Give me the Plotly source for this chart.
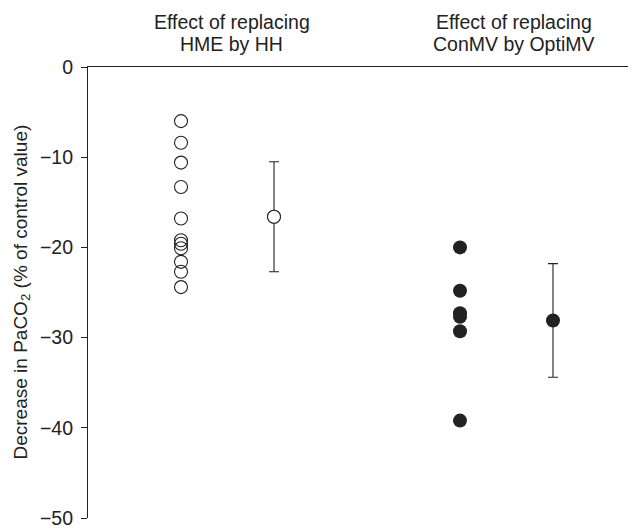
import plotly.graph_objects as go

# Data
group_title_lines = [["Effect of replacing", "HME by HH"], ["Effect of replacing", "ConMV by OptiMV"]]
hh_values = [-6.0, -8.4, -10.6, -13.3, -16.8, -19.2, -19.6, -20.1, -21.6, -22.7, -24.4]
hh_mean = -16.6
hh_sd = 6.1
opti_values = [-20.0, -24.8, -27.3, -27.7, -29.3, -39.2]
opti_mean = -28.1
opti_sd = 6.3
y_ticks = [0, -10, -20, -30, -40, -50]
y_title = "Decrease in PaCO<sub>2</sub> (% of control value)"

# x positions (layout only)
x_hh_pts, x_hh_mean, x_opti_pts, x_opti_mean = 1, 2, 4, 5

ink = "#222222"
fam = "Liberation Sans, Arial, sans-serif"
title_font = dict(family=fam, size=19.5, color=ink)
tick_font = dict(family=fam, size=19.5, color=ink)
ytitle_font = dict(family=fam, size=19, color=ink)

fig = go.Figure()
fig.add_trace(go.Scatter(
    x=[x_hh_pts] * len(hh_values), y=hh_values, mode="markers",
    marker=dict(symbol="circle-open", size=13, color=ink, line=dict(width=1.1, color=ink)),
    cliponaxis=False, showlegend=False))
fig.add_trace(go.Scatter(
    x=[x_hh_mean], y=[hh_mean], mode="markers",
    marker=dict(symbol="circle", size=13, color="white", line=dict(width=1.1, color=ink)),
    error_y=dict(type="data", array=[hh_sd], color=ink, thickness=1.1, width=5),
    showlegend=False))
fig.add_trace(go.Scatter(
    x=[x_opti_pts] * len(opti_values), y=opti_values, mode="markers",
    marker=dict(symbol="circle", size=14, color=ink, line=dict(width=0)),
    cliponaxis=False, showlegend=False))
fig.add_trace(go.Scatter(
    x=[x_opti_mean], y=[opti_mean], mode="markers",
    marker=dict(symbol="circle", size=14, color=ink, line=dict(width=0)),
    error_y=dict(type="data", array=[opti_sd], color=ink, thickness=1.1, width=5),
    showlegend=False))
# Re-draw the hollow mean on top of its error bar
fig.add_trace(go.Scatter(
    x=[x_hh_mean], y=[hh_mean], mode="markers",
    marker=dict(symbol="circle", size=13, color="white", line=dict(width=1.1, color=ink)),
    showlegend=False))

xr = [0, 548 / 93]
# page body has an 8px margin; figure sized so the plot area lands at x 88-636, y 67-518
fig.update_layout(
    width=628, height=523,
    margin=dict(l=80, r=0, t=59, b=13),
    paper_bgcolor="white", plot_bgcolor="white",
    font=tick_font,
    xaxis=dict(range=xr, side="top", showline=True, linecolor=ink, linewidth=1.2,
               showticklabels=False, ticks="", showgrid=False, zeroline=False,
               automargin=False, fixedrange=True),
    yaxis=dict(range=[-50, 0], tickvals=y_ticks,
               showline=True, linecolor=ink, linewidth=1.2, ticks="outside", ticklen=6,
               tickcolor=ink, tickwidth=1.2, showgrid=False, zeroline=False,
               tickfont=tick_font, ticklabelstandoff=4, automargin=False),
)

fig.add_annotation(x=0, xref="paper", xshift=-67, xanchor="center",
                   y=0.5, yref="paper", yanchor="middle", textangle=-90,
                   text=y_title, showarrow=False, font=ytitle_font)

for xc, lines, dx in zip([(x_hh_pts + x_hh_mean) / 2, (x_opti_pts + x_opti_mean) / 2],
                         group_title_lines, [4, 7]):
    for line, dy in zip(lines, [45, 23]):
        fig.add_annotation(x=xc, xref="x", xshift=dx, y=1.0, yref="paper", yshift=dy,
                           yanchor="middle", text=line, showarrow=False, font=title_font,
                           align="center")

fig.write_html("out.html")
